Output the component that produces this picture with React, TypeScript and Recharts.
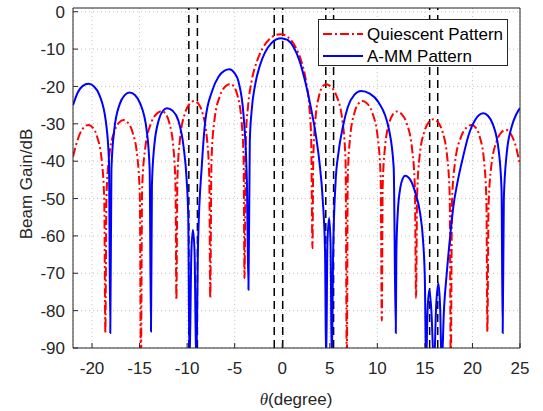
import React from "react";
import {
  LineChart,
  Line,
  XAxis,
  YAxis,
  CartesianGrid,
  ReferenceLine,
} from "recharts";

// A-MM (adaptive) pattern
const blueTheta = [
  -22.0, -21.5, -21.0, -20.36, -19.79, -19.22, -18.54, -18.22, -18.08, -17.96,
  -17.67, -17.07, -16.56, -16.05, -15.49, -14.93, -14.25, -13.94, -13.8, -13.7,
  -13.46, -12.96, -12.54, -12.12, -11.53, -10.94, -10.38, -10.05, -9.88, -9.75,
  -9.55, -9.39, -9.22, -9.04, -8.85, -8.45, -8.1, -7.4, -6.7, -6.1,
  -5.55, -5.05, -4.6, -4.07, -3.72, -3.55, -3.41, -3.21, -2.86, -2.34,
  -1.83, -1.14, -0.62, -0.1, 0.25, 0.6, 1.2, 1.8, 2.4, 3.0,
  3.5, 3.9, 4.25, 4.5, 4.62, 4.75, 4.93, 5.08, 5.21, 5.35,
  5.6, 5.9, 6.4, 6.9, 7.6, 8.29, 9.2, 10.12, 11.21, 11.72,
  11.94, 12.0, 12.14, 12.43, 12.68, 12.92, 13.47, 14.0, 14.5, 14.8,
  15.0, 15.12, 15.28, 15.47, 15.68, 15.96, 16.18, 16.42, 16.6, 16.77,
  17.0, 17.3, 17.7, 18.0, 18.4, 19.0, 19.6, 20.3, 21.14, 21.65,
  22.16, 22.77, 23.06, 23.18, 23.3, 23.6, 24.1, 24.6, 25.0,
];
const blueGain = [
  -25.0, -21.6, -19.9, -19.3, -20.0, -22.3, -29.5, -39.8, -86.0, -42.1,
  -31.8, -24.6, -22.3, -21.6, -22.3, -24.6, -31.8, -42.1, -85.6, -46.3,
  -36.0, -28.8, -26.5, -25.8, -26.5, -29.0, -36.0, -45.0, -55.0, -95,
  -64, -58.4, -64, -95, -62, -41.0, -29.4, -21.4, -17.4, -15.8,
  -15.4, -16.3, -18.7, -27.6, -45.0, -74.4, -34.7, -26.3, -19.7, -14.3,
  -11.0, -8.4, -7.4, -7.1, -7.3, -7.6, -9.5, -13.0, -18.5, -25.5,
  -32.5, -40.0, -50.0, -64.0, -95, -62, -55.2, -62, -95, -65,
  -46, -38, -30.5, -25.5, -22.2, -21.2, -21.9, -24.2, -31.4, -41.7,
  -86.0, -64.4, -54.1, -46.9, -44.6, -43.9, -45.0, -48.5, -54.0, -61.0,
  -72.0, -95, -80, -74.4, -80, -95, -79, -72.7, -79, -95,
  -80, -70, -59, -52, -46, -39, -33, -28.9, -27.2, -27.9,
  -30.2, -37.4, -47.7, -86.0, -50, -38, -31, -27.5, -25.8,
];

// Quiescent pattern
const redTheta = [
  -22.0, -21.58, -21.06, -20.36, -19.92, -19.48, -18.95, -18.71, -18.6, -18.48,
  -18.22, -17.64, -17.16, -16.68, -16.23, -15.77, -15.22, -14.97, -14.86, -14.73,
  -14.42, -13.76, -13.2, -12.65, -12.27, -11.89, -11.43, -11.22, -11.13, -11.02,
  -10.75, -10.19, -9.72, -9.25, -8.83, -8.41, -7.91, -7.67, -7.57, -7.44,
  -7.15, -6.52, -5.99, -5.47, -5.1, -4.72, -4.27, -4.06, -3.97, -3.82,
  -3.59, -3.22, -2.65, -2.09, -1.33, -0.77, -0.2, 0.31, 0.81, 1.49,
  2.0, 2.5, 2.84, 3.04, 3.18, 3.26, 3.46, 3.88, 4.23, 4.58,
  5.13, 5.69, 6.35, 6.66, 6.79, 6.89, 7.12, 7.61, 8.02, 8.43,
  8.94, 9.45, 10.06, 10.35, 10.47, 10.56, 10.78, 11.26, 11.65, 12.04,
  12.55, 13.06, 13.66, 13.95, 14.07, 14.18, 14.43, 14.98, 15.44, 15.89,
  16.35, 16.81, 17.35, 17.61, 17.72, 17.85, 18.16, 18.83, 19.38, 19.93,
  20.34, 20.75, 21.24, 21.47, 21.57, 21.69, 21.96, 22.55, 23.04, 23.53,
  24.0, 24.5, 25.0,
];
const redGain = [
  -38.8, -34.8, -31.6, -30.3, -31.0, -33.3, -40.5, -50.8, -86.0, -49.5,
  -39.2, -32.0, -29.7, -29.0, -29.7, -32.0, -39.2, -49.5, -95, -47.1,
  -36.8, -29.6, -27.3, -26.6, -27.3, -29.6, -36.8, -47.1, -77.1, -44.4,
  -34.1, -26.9, -24.6, -23.9, -24.6, -26.9, -34.1, -44.4, -76.6, -39.8,
  -29.5, -22.3, -20.0, -19.3, -20.0, -22.3, -29.5, -39.8, -71.3, -33.6,
  -25.2, -18.6, -13.2, -9.9, -7.3, -6.3, -6.0, -6.3, -7.3, -9.9,
  -13.2, -18.6, -25.2, -33.6, -63.3, -39.9, -29.6, -22.4, -20.1, -19.4,
  -20.1, -22.4, -29.6, -39.9, -95, -44.4, -34.1, -26.9, -24.6, -23.9,
  -24.6, -26.9, -34.1, -44.4, -82.7, -47.2, -36.9, -29.7, -27.4, -26.7,
  -27.4, -29.7, -36.9, -47.2, -76.6, -49.3, -39.0, -31.8, -29.5, -28.8,
  -29.5, -31.8, -39.0, -49.3, -95, -50.8, -40.5, -33.3, -31.0, -30.3,
  -31.0, -33.3, -40.5, -50.8, -85.6, -52.1, -41.8, -34.6, -32.3, -31.6,
  -32.6, -35.5, -41.0,
];

// interference angle boundaries (black dashed)
const nullEdges = [-9.82, -8.92, -0.84, 0.05, 4.58, 5.4, 15.5, 16.35];

const xTicks = [-20, -15, -10, -5, 0, 5, 10, 15, 20, 25];
const yTicks = [-90, -80, -70, -60, -50, -40, -30, -20, -10, 0];

const blueData = blueTheta.map((t, i) => ({ theta: t, gain: blueGain[i] }));
const redData = redTheta.map((t, i) => ({ theta: t, gain: redGain[i] }));

const axisColor = "#262626";
const font = '"Liberation Sans", Arial, Helvetica, sans-serif';

const XTick = (props: any) => {
  const { x, y, payload } = props;
  return (
    <g>
      <line x1={x} y1={y} x2={x} y2={y - 5} stroke={axisColor} />
      <text x={x} y={y + 26} textAnchor="middle" fill={axisColor} fontSize={17} fontFamily={font}>
        {payload.value}
      </text>
    </g>
  );
};

const YTick = (props: any) => {
  const { x, y, payload } = props;
  return (
    <g>
      <line x1={x} y1={y} x2={x + 5} y2={y} stroke={axisColor} />
      <text x={x - 8} y={y} dy="0.36em" textAnchor="end" fill={axisColor} fontSize={17} fontFamily={font}>
        {payload.value}
      </text>
    </g>
  );
};

export default function App() {
  return (
    <div
      style={{
        position: "absolute",
        left: 0,
        top: 0,
        width: 543,
        height: 411,
        background: "#ffffff",
        fontFamily: font,
      }}
    >
      <LineChart width={543} height={411} margin={{ top: 8, right: 23, bottom: 33, left: 0 }}>
        <CartesianGrid stroke="#c4c4c4" strokeDasharray="1 3" />
        <XAxis
          type="number"
          dataKey="theta"
          domain={[-22, 25]}
          ticks={xTicks}
          allowDataOverflow
          height={30}
          tickSize={0}
          tickMargin={0}
          tick={<XTick />}
          stroke={axisColor}
          interval={0}
        />
        <YAxis
          type="number"
          dataKey="gain"
          domain={[-90, 1]}
          ticks={yTicks}
          allowDataOverflow
          width={73}
          tickSize={0}
          tickMargin={0}
          tick={<YTick />}
          stroke={axisColor}
          interval={0}
        />
        <ReferenceLine y={1} stroke={axisColor} />
        <ReferenceLine x={25} stroke={axisColor} />
        {nullEdges.map((e) => (
          <ReferenceLine key={e} x={e} stroke="#000000" strokeWidth={1.5} strokeDasharray="8 5" />
        ))}
        <Line
          data={redData}
          dataKey="gain"
          type="monotone"
          stroke="#ff0000"
          strokeWidth={2}
          strokeDasharray="9 3 2 3"
          dot={false}
          isAnimationActive={false}
        />
        <Line
          data={blueData}
          dataKey="gain"
          type="monotone"
          stroke="#0000ff"
          strokeWidth={2}
          dot={false}
          isAnimationActive={false}
        />
      </LineChart>

      <svg width={543} height={411} style={{ position: "absolute", left: 0, top: 0, pointerEvents: "none" }}>
        <text
          x={26}
          y={184}
          transform="rotate(-90 26 184)"
          textAnchor="middle"
          dy="0.36em"
          fontSize={17}
          fill={axisColor}
          fontFamily={font}
        >
          Beam Gain/dB
        </text>
        <text x={296} y={405} textAnchor="middle" fontSize={17} fill={axisColor} fontFamily={font}>
          <tspan fontStyle="italic" fontFamily='"Liberation Serif", "DejaVu Serif", serif'>θ</tspan>
          (degree)
        </text>
      </svg>

      <div
        style={{
          position: "absolute",
          left: 318,
          top: 19,
          width: 190,
          height: 47,
          border: `1px solid ${axisColor}`,
          background: "#ffffff",
          boxSizing: "border-box",
        }}
      >
        <svg width={190} height={47}>
          <line x1={4} y1={14} x2={44} y2={14} stroke="#ff0000" strokeWidth={2} strokeDasharray="9 3 2 3" />
          <text x={48} y={14} dy="0.36em" fontSize={17} fill="#000" fontFamily={font}>
            Quiescent Pattern
          </text>
          <line x1={4} y1={36} x2={44} y2={36} stroke="#0000ff" strokeWidth={2} />
          <text x={48} y={36} dy="0.36em" fontSize={17} fill="#000" fontFamily={font}>
            A-MM Pattern
          </text>
        </svg>
      </div>
    </div>
  );
}
